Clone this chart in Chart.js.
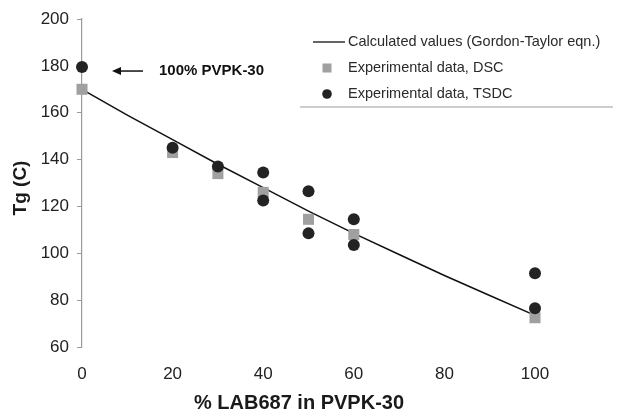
<!DOCTYPE html>
<html>
<head>
<meta charset="utf-8">
<script src="https://cdn.jsdelivr.net/npm/chart.js@4/dist/chart.umd.min.js"></script>
<style>
  html, body { margin: 0; padding: 0; background: #fff; }
  #wrap { position: relative; width: 618px; height: 415px; }
</style>
</head>
<body>
<div id="wrap"><canvas id="c" width="618" height="415"></canvas></div>
<script>
// ---- data ----
const xTicks = [0, 20, 40, 60, 80, 100];
const yTicks = [60, 80, 100, 120, 140, 160, 180, 200];

const calcX  = [0, 10, 20, 30, 40, 50, 60, 70, 80, 90, 100];
const calcTg = [170, 159, 148.5, 138, 128, 118, 108.5, 99.5, 90.5, 82, 73.5];

const dscX  = [0, 20, 30, 40, 50, 60, 100];
const dscTg = [170, 143, 134, 126, 114.5, 108, 72.5];

const tsdcX  = [0, 20, 30, 40, 40, 50, 50, 60, 60, 100, 100];
const tsdcTg = [179.5, 145, 137, 134.5, 122.5, 126.5, 108.5, 114.5, 103.5, 91.5, 76.5];

const seriesNames = ['Calculated values (Gordon-Taylor eqn.)', 'Experimental data, DSC', 'Experimental data, TSDC'];
const xTitle = '% LAB687 in PVPK-30';
const yTitle = 'Tg (C)';
const noteText = '100% PVPK-30';
const noteX = 0, noteY = 179.5;

const pts = (xs, ys) => xs.map((x, i) => ({x: x, y: ys[i]}));

const FONT = "'Liberation Sans', Arial, sans-serif";

const decor = {
  id: 'decor',
  afterDraw(chart) {
    const ctx = chart.ctx;
    const xs = chart.scales.x, ys = chart.scales.y;
    ctx.save();
    // axis titles
    ctx.fillStyle = '#1a1a1a';
    ctx.font = 'bold 20px ' + FONT;
    ctx.textAlign = 'center';
    ctx.textBaseline = 'middle';
    ctx.fillText(xTitle, 299, 403);
    ctx.save();
    ctx.translate(21, 188);
    ctx.rotate(-Math.PI / 2);
    ctx.font = 'bold 19px ' + FONT;
    ctx.fillText(yTitle, 0, 0);
    ctx.restore();

    // annotation arrow + text
    const py = ys.getPixelForValue(noteY) + 4;
    const px = xs.getPixelForValue(noteX);
    const tipX = px + 30, tailX = px + 61;
    ctx.strokeStyle = '#111';
    ctx.fillStyle = '#111';
    ctx.lineWidth = 1.5;
    ctx.beginPath();
    ctx.moveTo(tailX, py);
    ctx.lineTo(tipX + 6, py);
    ctx.stroke();
    ctx.beginPath();
    ctx.moveTo(tipX, py);
    ctx.lineTo(tipX + 9, py - 4);
    ctx.lineTo(tipX + 9, py + 4);
    ctx.closePath();
    ctx.fill();
    ctx.font = 'bold 15px ' + FONT;
    ctx.textAlign = 'left';
    ctx.fillText(noteText, px + 77, py);

    // legend
    ctx.font = '14.5px ' + FONT;
    ctx.fillStyle = '#2a2a2a';
    ctx.textBaseline = 'middle';
    ctx.strokeStyle = '#111';
    ctx.lineWidth = 1.3;
    ctx.beginPath();
    ctx.moveTo(313, 42);
    ctx.lineTo(345, 42);
    ctx.stroke();
    ctx.fillText(seriesNames[0], 348, 42);
    ctx.fillStyle = '#a0a0a0';
    ctx.fillRect(322.5, 63.5, 9, 9);
    ctx.fillStyle = '#2a2a2a';
    ctx.fillText(seriesNames[1], 348, 68);
    ctx.beginPath();
    ctx.arc(327, 94, 4.8, 0, Math.PI * 2);
    ctx.fillStyle = '#222';
    ctx.fill();
    ctx.fillStyle = '#2a2a2a';
    ctx.fillText(seriesNames[2], 348, 94);
    ctx.strokeStyle = '#bdbdbd';
    ctx.lineWidth = 1.5;
    ctx.beginPath();
    ctx.moveTo(300, 107);
    ctx.lineTo(613, 107);
    ctx.stroke();
    ctx.restore();
  }
};

new Chart(document.getElementById('c'), {
  type: 'scatter',
  data: {
    datasets: [
      {
        label: seriesNames[2],
        data: pts(tsdcX, tsdcTg),
        pointStyle: 'circle',
        pointRadius: 6,
        backgroundColor: '#232323',
        borderColor: '#232323',
        borderWidth: 0,
        clip: false,
        order: 0
      },
      {
        label: seriesNames[1],
        data: pts(dscX, dscTg),
        pointStyle: 'rect',
        pointRadius: 7.8,
        backgroundColor: '#a0a0a0',
        borderColor: '#a0a0a0',
        borderWidth: 0,
        clip: false,
        order: 1
      },
      {
        label: seriesNames[0],
        data: pts(calcX, calcTg),
        showLine: true,
        pointRadius: 0,
        borderColor: '#111',
        borderWidth: 1.5,
        backgroundColor: '#111',
        tension: 0,
        clip: false,
        order: 2
      }
    ]
  },
  options: {
    responsive: false,
    animation: false,
    devicePixelRatio: 1,
    layout: { padding: { left: 0, top: 19, right: 83, bottom: 0 } },
    plugins: { legend: { display: false }, tooltip: { enabled: false } },
    scales: {
      x: {
        type: 'linear',
        min: 0, max: 100,
        afterBuildTicks: (s) => { s.ticks = xTicks.map(v => ({value: v})); },
        afterFit: (s) => { s.height = 68; },
        grid: { display: false, drawTicks: false },
        border: { display: false },
        ticks: { font: { family: FONT, size: 17 }, color: '#222', padding: 17, maxRotation: 0 }
      },
      y: {
        type: 'linear',
        min: 60, max: 200,
        afterBuildTicks: (s) => { s.ticks = yTicks.map(v => ({value: v})); },
        afterFit: (s) => { s.width = 82; },
        grid: { display: true, drawOnChartArea: false, drawTicks: true, tickLength: 5, color: '#9a9a9a' },
        border: { display: true, color: '#9a9a9a', width: 1.2 },
        ticks: { font: { family: FONT, size: 17 }, color: '#222', padding: 8 }
      }
    }
  },
  plugins: [decor]
});
</script>
</body>
</html>
